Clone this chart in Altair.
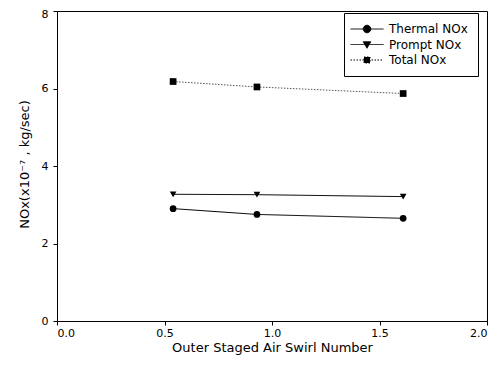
import altair as alt
import pandas as pd

series = ["Thermal NOx", "Prompt NOx", "Total NOx"]
swirl = [0.54, 0.93, 1.61]
thermal = [2.90, 2.75, 2.65]
prompt = [3.27, 3.26, 3.21]
total = [6.18, 6.04, 5.87]
x_ticks = [0.0, 0.5, 1.0, 1.5, 2.0]
y_ticks = [0, 2, 4, 6, 8]

rows = []
for name, vals in zip(series, [thermal, prompt, total]):
    for xv, v in zip(swirl, vals):
        rows.append({"series": name, "swirl": xv, "nox": v})
df = pd.DataFrame(rows)

FONT = "DejaVu Sans"
dash_range = [[1, 0], [1, 0], [1.5, 1.5]]
marker_shapes = ["circle", "triangle-down", "square"]
legend_paths = [
    "M-1.9,0H4.7M2.15,0A0.75,0.75 0 1,1 0.65,0A0.75,0.75 0 1,1 2.15,0Z",
    "M-1.9,0H4.7M0.65,-0.55L2.15,-0.55L1.4,0.75Z",
    "M-1.9,0H4.7M0.8,-0.6H2.0V0.6H0.8Z",
]

x_enc = alt.X(
    "swirl:Q",
    scale=alt.Scale(domain=[0, 2], nice=False),
    axis=alt.Axis(
        values=x_ticks, format=".1f", title="Outer Staged Air Swirl Number",
        tickSize=4, labelPadding=2, titlePadding=3,
    ),
)
y_enc = alt.Y(
    "nox:Q",
    scale=alt.Scale(domain=[0, 8], nice=False),
    axis=alt.Axis(
        values=y_ticks, format="d", title="NOx(x10⁻⁷ , kg/sec)",
        tickSize=4, labelPadding=5, titleX=-26, titleY=153,
        labelOffset={"condition": {"test": "datum.value == 8", "value": 3}, "value": 0},
    ),
)

base = alt.Chart(df)

lines = base.mark_line(strokeWidth=1).encode(
    x=x_enc, y=y_enc,
    strokeDash=alt.StrokeDash("series:N", scale=alt.Scale(domain=series, range=dash_range), legend=None),
    color=alt.Color("series:N", scale=alt.Scale(domain=series, range=["black", "black", "#555555"]), legend=None),
)

points = base.mark_point(filled=True, color="black", size=45, opacity=1).encode(
    x=x_enc, y=y_enc,
    shape=alt.Shape("series:N", scale=alt.Scale(domain=series, range=marker_shapes), legend=None),
)

leg = alt.Legend(
    title=None, orient="none", legendX=287, legendY=2,
    strokeColor="black", fillColor="white", padding=10, cornerRadius=0,
    symbolSize=100, symbolStrokeWidth=1, labelOffset=23,
    labelFont=FONT, labelFontSize=12, labelColor="black", rowPadding=3.5,
    labelExpr="datum.label + '\u00a0\u00a0\u00a0'",
)

legend_layer = base.transform_filter("false").mark_point(
    filled=True, color="black", stroke="black", strokeWidth=1, opacity=1
).encode(
    x=x_enc, y=y_enc,
    shape=alt.Shape("series:N", scale=alt.Scale(domain=series, range=legend_paths), legend=leg),
    strokeDash=alt.StrokeDash("series:N", scale=alt.Scale(domain=series, range=dash_range), legend=leg),
)

chart = (
    alt.layer(lines, points, legend_layer)
    .resolve_scale(shape="independent", strokeDash="independent", color="independent")
    .properties(
        width=430, height=310,
        autosize=alt.AutoSizeParams(type="none"),
        padding={"left": 49, "top": 3, "right": 7, "bottom": 42},
        background="white",
    )
    .configure_view(stroke="black", strokeWidth=1)
    .configure_axis(
        grid=False, domainColor="black", tickColor="black", labelColor="black",
        titleColor="black", labelFont=FONT, titleFont=FONT, labelFontSize=11,
        titleFontSize=13, titleFontWeight="normal", domainWidth=1,
    )
)

chart.save("out.html", embed_options={"renderer": "svg", "actions": False})
